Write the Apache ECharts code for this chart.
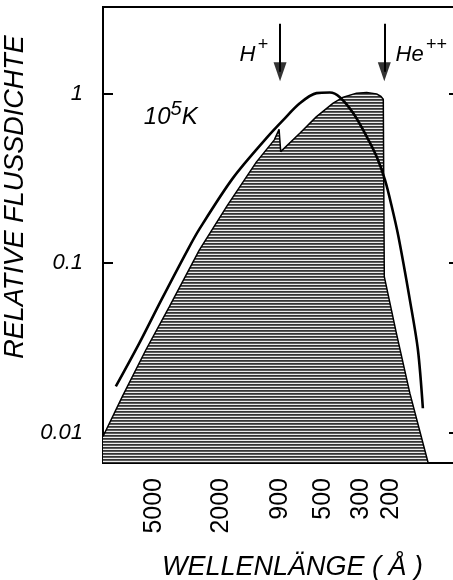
<!DOCTYPE html>
<html>
<head>
<meta charset="utf-8">
<script src="https://cdn.jsdelivr.net/npm/echarts@6.0.0/dist/echarts.min.js"></script>
<style>
	html, body { margin: 0; padding: 0; background: #fff; }
	#chart { width: 453px; height: 580px; }
</style>
</head>
<body>
<div id="chart"></div>
<script>
	// Schwarzkörper 10^5 K: Wellenlänge (Å) und relative Flussdichte
	var bbWave = [8400, 6100, 4520, 3160, 2680, 1705, 1080, 863, 688, 548, 457, 399, 333, 277, 242, 216, 197, 180, 154, 138, 129];
	var bbFlux = [0.0187, 0.0337, 0.0607, 0.12, 0.1605, 0.319, 0.55, 0.70, 0.88, 1.01, 1.018, 0.956, 0.77, 0.56, 0.426, 0.31, 0.216, 0.144, 0.0607, 0.0308, 0.0139];

	// Modellspektrum (schraffiert)
	var spWave = [10000, 7656, 5577, 4055, 2695, 1834, 1240, 973, 912, 892, 688, 548, 437, 381, 318, 277, 242, 228, 221, 218, 185, 154, 120];
	var spFlux = [0.00946, 0.01644, 0.0308, 0.0554, 0.1199, 0.221, 0.3965, 0.535, 0.617, 0.456, 0.586, 0.734, 0.881, 0.956, 1.01, 1.018, 1.0, 0.965, 0.93, 0.0833, 0.0386, 0.01707, 0.0066];

	// Ionisationskanten (Pfeile)
	var edgeWave = [900, 218];
	var arrowTop = 2.6;
	var arrowHead = 1.35;

	var xTicks = [5000, 2000, 900, 500, 300, 200];
	var yTicks = [0.01, 0.1, 1];

	var font = 'Liberation Sans';

	function pairs(xs, ys) {
		return xs.map(function (x, i) { return [x, ys[i]]; });
	}

	// horizontale Schraffur
	var pat = document.createElement('canvas');
	pat.width = 4;
	pat.height = 3;
	var ctx = pat.getContext('2d');
	ctx.fillStyle = '#333333'; ctx.fillRect(0, 0, 4, 1);
	ctx.fillStyle = '#5c5c5c'; ctx.fillRect(0, 1, 4, 1);
	ctx.fillStyle = '#ececec'; ctx.fillRect(0, 2, 4, 1);

	var mychart = echarts.init(document.getElementById('chart'));

	var option = {
		animation: false,
		backgroundColor: '#fff',
		grid: {
			left: 103, right: -5, top: 7, bottom: 117,
			outerBoundsMode: 'none',
			containLabel: false,
			show: true, borderColor: '#000', borderWidth: 2
		},
		xAxis: {
			type: 'log',
			inverse: true,
			min: 80,
			max: 10000,
			name: 'WELLENLÄNGE ( Å )',
			nameLocation: 'middle',
			nameGap: 91,
			nameTextStyle: { fontSize: 27, fontStyle: 'italic', fontFamily: font, color: '#000', padding: [0, 0, 0, 24] },
			axisLine: { lineStyle: { color: '#000', width: 2 } },
			axisTick: { inside: true, length: 10, customValues: xTicks, lineStyle: { color: '#000', width: 2 } },
			axisLabel: {
				customValues: xTicks,
				rotate: 90,
				margin: 15,
				fontSize: 25,
				fontFamily: font,
				color: '#000',
				formatter: function (v) { return String(Math.round(v)); }
			},
			splitLine: { show: false },
			minorTick: { show: false }
		},
		yAxis: [{
			type: 'log',
			min: 0.0066,
			max: 3.26,
			name: 'RELATIVE FLUSSDICHTE',
			nameLocation: 'middle',
			nameRotate: 90,
			nameGap: 63,
			nameTextStyle: { fontSize: 27, fontStyle: 'italic', fontFamily: font, color: '#000', padding: [0, 0, 0, 76] },
			axisLine: { lineStyle: { color: '#000', width: 2 } },
			axisTick: { inside: true, length: 10, customValues: yTicks, lineStyle: { color: '#000', width: 2 } },
			axisLabel: {
				customValues: yTicks,
				margin: 20,
				fontSize: 22,
				fontStyle: 'italic',
				fontFamily: font,
				color: '#000',
				formatter: function (v) { return String(v); }
			},
			splitLine: { show: false }
		}, {
			type: 'log',
			position: 'right',
			min: 0.0066,
			max: 3.26,
			axisLine: { show: true, lineStyle: { color: '#000', width: 2 } },
			axisTick: { inside: true, length: 9, customValues: yTicks, lineStyle: { color: '#000', width: 2 } },
			axisLabel: { show: false },
			splitLine: { show: false }
		}],
		series: [{
			name: 'Spektrum',
			type: 'line',
			data: pairs(spWave, spFlux),
			showSymbol: false,
			symbol: 'none',
			lineStyle: { color: '#000', width: 1.5 },
			areaStyle: { origin: 'start', color: { image: pat, repeat: 'repeat' }, opacity: 1 },
			z: 2
		}, {
			name: 'Schwarzkörper',
			type: 'line',
			data: pairs(bbWave, bbFlux),
			smooth: 0.3,
			showSymbol: false,
			symbol: 'none',
			lineStyle: { color: '#000', width: 2.6 },
			z: 3,
			markLine: {
				silent: true,
				symbol: ['none', 'none'],
				label: { show: false },
				lineStyle: { color: '#000', width: 2, type: 'solid' },
				data: edgeWave.map(function (w) {
					return [{ coord: [w, arrowTop] }, { coord: [w, arrowHead] }];
				})
			},
			markPoint: {
				silent: true,
				symbolSize: 0,
				label: {
					show: true,
					position: 'inside',
					color: '#000',
					rich: {
						m: { fontSize: 22, fontStyle: 'italic', fontFamily: font, color: '#000', lineHeight: 30, verticalAlign: 'bottom' },
						t: { fontSize: 24, fontStyle: 'italic', fontFamily: font, color: '#000', lineHeight: 30, verticalAlign: 'bottom' },
						s: { fontSize: 18, fontStyle: 'italic', fontFamily: font, color: '#000', lineHeight: 18, verticalAlign: 'top', padding: [0, 0, 0, 2] },
						f: { fontSize: 20, fontStyle: 'italic', fontFamily: font, color: '#000', lineHeight: 20, verticalAlign: 'top' }
					}
				},
				data: [
					{ coord: [1286, 1.8], label: { formatter: '{m|H}{s|+}' } },
					{ coord: [132, 1.8], label: { formatter: '{m|He}{s|++}' } },
					{ coord: [3980, 0.76], label: { formatter: '{t|10}{f|5}{t|K}' } }
				]
			}
		}, {
			name: 'Kanten',
			type: 'scatter',
			data: edgeWave.map(function (w) { return [w, arrowHead]; }),
			symbol: 'triangle',
			symbolSize: [13, 19],
			symbolRotate: 180,
			itemStyle: { color: '#000' },
			silent: true,
			z: 4
		}]
	};

	mychart.setOption(option);

	window.addEventListener('resize', function () {
		mychart.resize();
	});
</script>
</body>
</html>
